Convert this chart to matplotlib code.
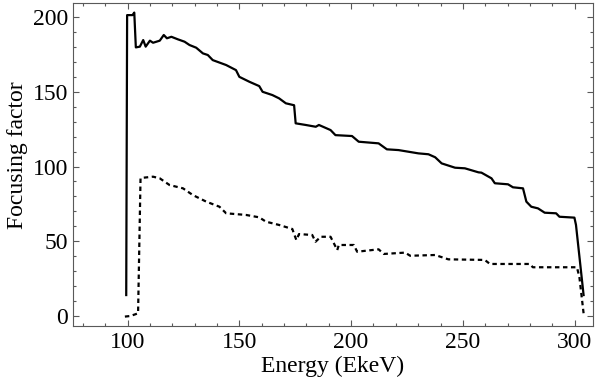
import matplotlib
matplotlib.use("Agg")
import matplotlib.pyplot as plt
from matplotlib.ticker import MultipleLocator

# solid curve (upper)
e_solid = [99.4, 99.8, 102.2, 103.0, 103.7, 105.5, 107.0, 108.1, 110.0, 111.4,
           114.4, 116.2, 117.6, 119.6, 122.5, 125.5, 127.7, 130.7, 133.7, 135.9,
           138.1, 144.1, 148.5, 150.0, 154.5, 158.9, 160.4, 164.8, 167.8, 170.8,
           174.5, 175.2, 179.7, 184.2, 185.6, 190.8, 193.0, 200.4, 203.4, 212.3,
           216.0, 221.2, 230.1, 234.6, 237.6, 240.5, 246.5, 250.9, 257.0, 258.3,
           262.8, 264.3, 270.2, 272.4, 276.9, 278.4, 280.6, 283.6, 286.6, 291.7,
           293.2, 299.9, 300.6, 304.0]
f_solid = [14.0, 201.3, 201.3, 203.0, 179.7, 180.2, 184.6, 180.2, 184.2, 182.8,
           184.2, 188.0, 185.8, 186.8, 185.1, 183.5, 181.3, 179.5, 175.7, 174.6,
           171.2, 167.9, 164.5, 160.0, 156.7, 153.8, 150.0, 147.8, 145.6, 142.3,
           141.0, 128.9, 127.8, 126.6, 127.8, 124.4, 121.0, 120.4, 116.6, 115.5,
           111.5, 111.0, 108.8, 108.2, 106.2, 102.1, 99.2, 98.8, 96.1, 95.9,
           92.1, 88.8, 88.1, 86.1, 85.4, 76.5, 73.1, 72.0, 69.1, 68.7,
           66.4, 65.8, 60.9, 14.0]

# dashed curve (lower)
e_dash = [98.8, 101.3, 104.7, 105.8, 107.0, 111.4, 114.4, 118.8, 121.8, 124.8,
          129.2, 135.2, 141.1, 144.1, 153.0, 158.9, 161.9, 167.8, 173.7, 175.5,
          176.7, 182.6, 184.1, 186.4, 190.8, 192.3, 193.8, 194.5, 201.2, 202.7,
          212.3, 214.6, 224.2, 226.4, 237.6, 243.5, 259.8, 262.1, 279.9, 281.3,
          301.0, 302.1, 304.0]
f_dash = [-0.4, 0.0, 1.8, 92.1, 92.5, 93.2, 92.1, 87.6, 86.5, 85.4,
          80.9, 76.5, 73.1, 68.7, 67.6, 66.0, 63.1, 60.9, 58.2, 50.8,
          54.8, 54.2, 49.7, 53.0, 53.0, 48.6, 44.1, 47.5, 47.5, 43.0,
          44.6, 41.5, 42.4, 40.3, 40.8, 37.9, 37.5, 34.8, 34.8, 32.6,
          32.6, 26.3, 1.8]

plt.rcParams['font.family'] = ['Liberation Serif', 'DejaVu Serif']

fig = plt.figure(figsize=(6, 3.9), dpi=100)
ax = fig.add_axes([0.1217, 0.1641, 0.8666, 0.8282])

ax.plot(e_solid, f_solid, color='black', lw=1.6)
ax.plot(e_dash, f_dash, color='black', lw=1.6, linestyle=(0, (2, 1.6)))

ax.set_xlim(75.6, 308.2)
ax.set_ylim(-6.7, 209.4)

ax.xaxis.set_major_locator(MultipleLocator(50))
ax.xaxis.set_minor_locator(MultipleLocator(10))
ax.yaxis.set_major_locator(MultipleLocator(50))
ax.yaxis.set_minor_locator(MultipleLocator(10))
ax.tick_params(which='both', direction='in', top=True, right=True,
               color='0.35', width=0.8)
ax.tick_params(which='major', length=4, labelsize=17)
ax.tick_params(axis='x', which='major', pad=4)
ax.tick_params(axis='y', which='major', pad=3.5)
ax.tick_params(which='minor', length=2)
for s in ax.spines.values():
    s.set_color('0.35')
    s.set_linewidth(0.8)

ax.set_xlabel("Energy (EkeV)", fontsize=17, labelpad=2)
ax.set_ylabel("Focusing factor", fontsize=17)
ax.yaxis.set_label_coords(-0.087, 0.53)

fig.savefig("out.png", dpi=100)
